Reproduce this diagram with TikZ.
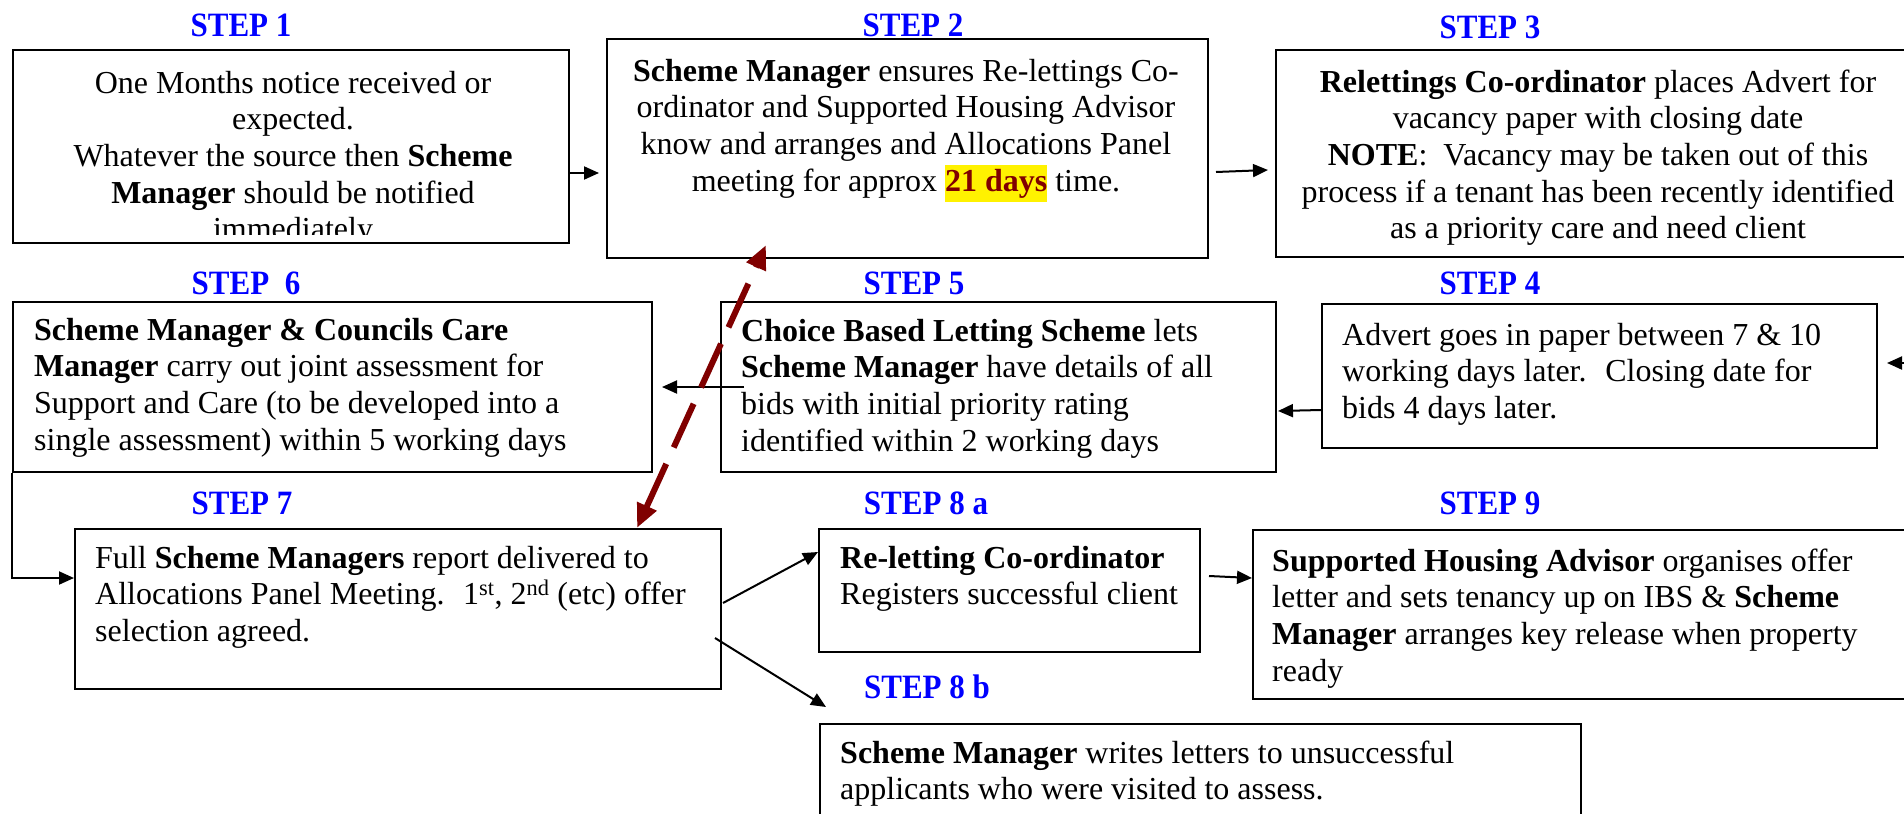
\documentclass[tikz,border=0pt]{standalone}
\usepackage{fontspec}
\setmainfont{Liberation Serif}
\usetikzlibrary{arrows.meta,calc}
\definecolor{stepblue}{RGB}{0,0,255}
\definecolor{darkred}{RGB}{128,0,0}
\newcommand\bodysize{\fontsize{32pt}{36.7pt}\selectfont}
\newcommand\hlday[1]{{\setlength{\fboxsep}{0pt}\colorbox{yellow}{\strut\textcolor{darkred}{\textbf{#1}}}}}
\newcommand\steptxt[1]{\scalebox{1}[1.1]{#1}}
\begin{document}
\begin{tikzpicture}[x=1pt,y=-1pt,
  box/.style={draw, line width=2pt, inner sep=0pt, anchor=north west},
  steplabel/.style={text=stepblue, font=\fontsize{31pt}{36pt}\selectfont\bfseries, inner sep=0pt},
  ctext/.style={inner sep=0pt, anchor=base, font=\bodysize},
  ltext/.style={inner sep=0pt, anchor=base west, font=\bodysize},
  arr/.style={line width=2pt, -{Triangle[length=15pt,width=13pt]}},
  redarr/.style={darkred, line width=6pt, dash pattern=on 48pt off 18pt,
    {Triangle[length=24pt,width=20pt]}-{Triangle[length=24pt,width=20pt]}}
]
\useasboundingbox (0,0) rectangle (1904,814);
\fill[white] (0,0) rectangle (1904,814);
\clip (0,0) rectangle (1904,814);

% boxes
\node[box, minimum width=556pt, minimum height=193pt] (s1) at (12,49) {};
\node[box, minimum width=601pt, minimum height=219pt] (s2) at (606,38) {};
\node[box, minimum width=646pt, minimum height=207pt] (s3) at (1275,49) {};
\node[box, minimum width=555pt, minimum height=144pt] (s4) at (1321,303) {};
\node[box, minimum width=555pt, minimum height=170pt] (s5) at (720,301) {};
\node[box, minimum width=639pt, minimum height=170pt] (s6) at (12,301) {};
\node[box, minimum width=646pt, minimum height=160pt] (s7) at (74,528) {};
\node[box, minimum width=381pt, minimum height=123pt] (s8a) at (818,528) {};
\node[box, minimum width=761pt, minimum height=130pt] (s8b) at (819,723) {};
\node[box, minimum width=669pt, minimum height=169pt] (s9) at (1252,529) {};

% step labels
\node[steplabel] (l1) at (241,25) {\steptxt{STEP 1}};
\node[steplabel] (l2) at (913,25) {\steptxt{STEP 2}};
\node[steplabel] (l3) at (1490,27) {\steptxt{STEP 3}};
\node[steplabel] (l6) at (246,283) {\steptxt{STEP\ \ 6}};
\node[steplabel] (l5) at (914,283) {\steptxt{STEP 5}};
\node[steplabel] (l4) at (1490,283) {\steptxt{STEP 4}};
\node[steplabel] (l7) at (242,503) {\steptxt{STEP 7}};
\node[steplabel] (l8a) at (926,503) {\steptxt{STEP 8 a}};
\node[steplabel] (l9) at (1490,503) {\steptxt{STEP 9}};
\node[steplabel] (l8b) at (927,687) {\steptxt{STEP 8 b}};

% texts
\begin{scope}
\clip (s1.north west) rectangle ($(s1.south east)+(0,-10)$);
\node[ctext] (t1) at (293,93) {\parbox[t]{556pt}{\centering One Months notice received or\\ expected.\\ Whatever the source then \textbf{Scheme}\\ \textbf{Manager} should be notified\\ immediately}};
\end{scope}
\node[ctext] (t2) at (906,81) {\parbox[t]{601pt}{\centering \textbf{Scheme Manager} ensures Re-lettings Co-\\ ordinator and Supported Housing Advisor\\ know and arranges and Allocations Panel\\ meeting for approx \hlday{21 days} time.}};
\node[ctext] (t3) at (1598,92) {\parbox[t]{646pt}{\centering \textbf{Relettings Co-ordinator} places Advert for\\ vacancy paper with closing date\\ \textbf{NOTE}:~ Vacancy may be taken out of this\\ process if a tenant has been recently identified\\ as a priority care and need client}};
\node[ltext] (t4) at (1342,345) {\parbox[t]{560pt}{\raggedright Advert goes in paper between 7 \& 10\\ working days later.~ Closing date for\\ bids 4 days later.}};
\node[ltext] (t5) at (741,341) {\parbox[t]{560pt}{\raggedright \textbf{Choice Based Letting Scheme} lets\\ \textbf{Scheme Manager} have details of all\\ bids with initial priority rating\\ identified within 2 working days}};
\node[ltext] (t6) at (34,340) {\parbox[t]{640pt}{\raggedright \textbf{Scheme Manager \& Councils Care}\\ \textbf{Manager} carry out joint assessment for\\ Support and Care (to be developed into a\\ single assessment) within 5 working days}};
\node[ltext] (t7) at (95,568) {\parbox[t]{640pt}{\raggedright Full \textbf{Scheme Managers} report delivered to\\ Allocations Panel Meeting.~ 1\textsuperscript{st}, 2\textsuperscript{nd} (etc) offer\\ selection agreed.}};
\node[ltext] (t8a) at (840,568) {\parbox[t]{400pt}{\raggedright \textbf{Re-letting Co-ordinator}\\ Registers successful client}};
\node[ltext] (t8b) at (840,763) {\parbox[t]{740pt}{\raggedright \textbf{Scheme Manager} writes letters to unsuccessful\\ applicants who were visited to assess.}};
\node[ltext] (t9) at (1272,571) {\parbox[t]{640pt}{\raggedright \textbf{Supported Housing Advisor} organises offer\\ letter and sets tenancy up on IBS \& \textbf{Scheme}\\ \textbf{Manager} arranges key release when property\\ ready}};

% connectors
\coordinate (in4) at (1910,363);
\coordinate (e8b) at ($(s8b.north west)+(7,-16)$);
\draw[arr] ($(s1.north east)+(0,124)$) -- ($(s2.north west)+(-7,135)$);
\draw[arr] ($(s2.north east)+(7,134)$) -- ($(s3.north west)+(-7,121)$);
\draw[arr] (in4) -- ($(s4.north east)+(9,60)$);
\draw[arr] ($(s4.north west)+(0,107)$) -- ($(s5.north east)+(1,110)$);
\draw[arr] ($(s5.north west)+(24,86)$) -- ($(s6.north east)+(9,86)$);
\draw[arr] (s6.south west) |- ($(s7.north west)+(0,50)$);
\draw[arr] ($(s7.north east)+(1,75)$) -- ($(s8a.north west)+(0,24)$);
\draw[arr] ($(s7.north east)+(-7,110)$) -- (e8b);
\draw[arr] ($(s8a.north east)+(8,48)$) -- ($(s9.north west)+(0,49)$);

% red double arrow
\coordinate (r2) at ($(s2.south west)+(160,-14)$);
\coordinate (r7) at ($(s7.north west)+(563,0)$);
\draw[redarr] (r7) -- (r2);
\end{tikzpicture}
\end{document}
